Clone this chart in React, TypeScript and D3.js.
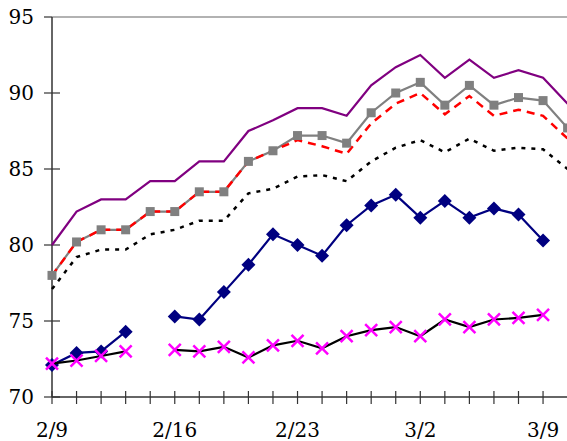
import React from "react";
import * as d3 from "d3";

const dates = ["2/9","2/10","2/11","2/12","2/13","2/16","2/17","2/18","2/19","2/20","2/23","2/24","2/25","2/26","2/27","3/2","3/3","3/4","3/5","3/6","3/9","3/10"];
const labelEvery = 5;
const yTicks = [70, 75, 80, 85, 90, 95];

const purpleSeries: (number | null)[] = [80.0,82.2,83.0,83.0,84.2,84.2,85.5,85.5,87.5,88.2,89.0,89.0,88.5,90.5,91.7,92.5,91.0,92.2,91.0,91.5,91.0,89.3];
const graySeries: (number | null)[] = [78.0,80.2,81.0,81.0,82.2,82.2,83.5,83.5,85.5,86.2,87.2,87.2,86.7,88.7,90.0,90.7,89.2,90.5,89.2,89.7,89.5,87.7];
const redSeries: (number | null)[] = [78.0,80.2,81.0,81.0,82.2,82.2,83.5,83.5,85.5,86.2,86.9,86.5,86.0,88.0,89.3,90.0,88.6,89.8,88.5,88.9,88.5,87.0];
const dottedSeries: (number | null)[] = [77.1,79.2,79.7,79.7,80.7,81.0,81.6,81.6,83.4,83.7,84.5,84.6,84.2,85.5,86.4,86.9,86.1,87.0,86.2,86.4,86.3,85.0];
const blueSeries: (number | null)[] = [72.1,72.9,73.0,74.3,null,75.3,75.1,76.9,78.7,80.7,80.0,79.3,81.3,82.6,83.3,81.8,82.9,81.8,82.4,82.0,80.3,null];
const pinkSeries: (number | null)[] = [72.2,72.4,72.7,73.0,null,73.1,73.0,73.3,72.6,73.4,73.7,73.2,74.0,74.4,74.6,74.0,75.1,74.6,75.1,75.2,75.4,null];

const W = 567, H = 441;
const left = 52, right = 567.6, top = 17, bottom = 397;

export default function App() {
  const x = d3.scaleLinear().domain([0, dates.length - 1]).range([left, right]);
  const y = d3.scaleLinear().domain([70, 95]).range([bottom, top]);
  const mk = (data: (number | null)[]) =>
    d3.line<number | null>()
      .defined((d) => d !== null)
      .x((_, i) => x(i))
      .y((d) => y(d as number))(data) || "";
  const pts = (data: (number | null)[]) =>
    data.map((d, i) => ({ d, i })).filter((p) => p.d !== null) as { d: number; i: number }[];
  const textStyle = { fontFamily: "'DejaVu Serif', serif", fontSize: "20px" };

  return (
    <svg width={W} height={H} style={{ position: "fixed", left: 0, top: 0, background: "#fff" }}>
      <rect x={0} y={0} width={W} height={H} fill="#fff" />
      <line x1={left} x2={W} y1={y(95)} y2={y(95)} stroke="#999" strokeWidth={1.5} />
      <line x1={left} x2={left} y1={top} y2={bottom} stroke="#333" strokeWidth={1.5} />
      {yTicks.map((t) => (
        <g key={t}>
          <line x1={44} x2={t === 95 ? left : 60} y1={y(t)} y2={y(t)} stroke="#333" strokeWidth={1.2} />
          <text x={34} y={y(t)} dy="0.36em" textAnchor="end" style={textStyle} fill="#000">{t}</text>
        </g>
      ))}
      <line x1={left} x2={W} y1={bottom} y2={bottom} stroke="#333" strokeWidth={1.5} />
      {dates.map((d, i) => (
        <g key={d}>
          <line x1={x(i)} x2={x(i)} y1={391} y2={404} stroke="#333" strokeWidth={1.2} />
          {i % labelEvery === 0 && (
            <text x={x(i)} y={437} textAnchor="middle" style={textStyle} fill="#000">{d}</text>
          )}
        </g>
      ))}
      <path d={mk(purpleSeries)} fill="none" stroke="#800080" strokeWidth={2.2} />
      <path d={mk(dottedSeries)} fill="none" stroke="#000" strokeWidth={2.5} strokeDasharray="4,6" />
      <path d={mk(graySeries)} fill="none" stroke="#808080" strokeWidth={2.2} />
      <path d={mk(redSeries)} fill="none" stroke="#ff0000" strokeWidth={2.5} strokeDasharray="8,6" />
      {pts(graySeries).map((p) => (
        <rect key={p.i} x={x(p.i) - 4.5} y={y(p.d) - 4.5} width={9} height={9} fill="#808080" />
      ))}
      <path d={mk(blueSeries)} fill="none" stroke="#000080" strokeWidth={2.2} />
      {pts(blueSeries).map((p) => (
        <path key={p.i} d={`M${x(p.i)},${y(p.d) - 7}L${x(p.i) + 7},${y(p.d)}L${x(p.i)},${y(p.d) + 7}L${x(p.i) - 7},${y(p.d)}Z`} fill="#000080" />
      ))}
      <path d={mk(pinkSeries)} fill="none" stroke="#000" strokeWidth={2.2} />
      {pts(pinkSeries).map((p) => (
        <path key={p.i} d={`M${x(p.i) - 6},${y(p.d) - 6}L${x(p.i) + 6},${y(p.d) + 6}M${x(p.i) - 6},${y(p.d) + 6}L${x(p.i) + 6},${y(p.d) - 6}`} stroke="#ff00ff" strokeWidth={2.5} fill="none" />
      ))}
    </svg>
  );
}
